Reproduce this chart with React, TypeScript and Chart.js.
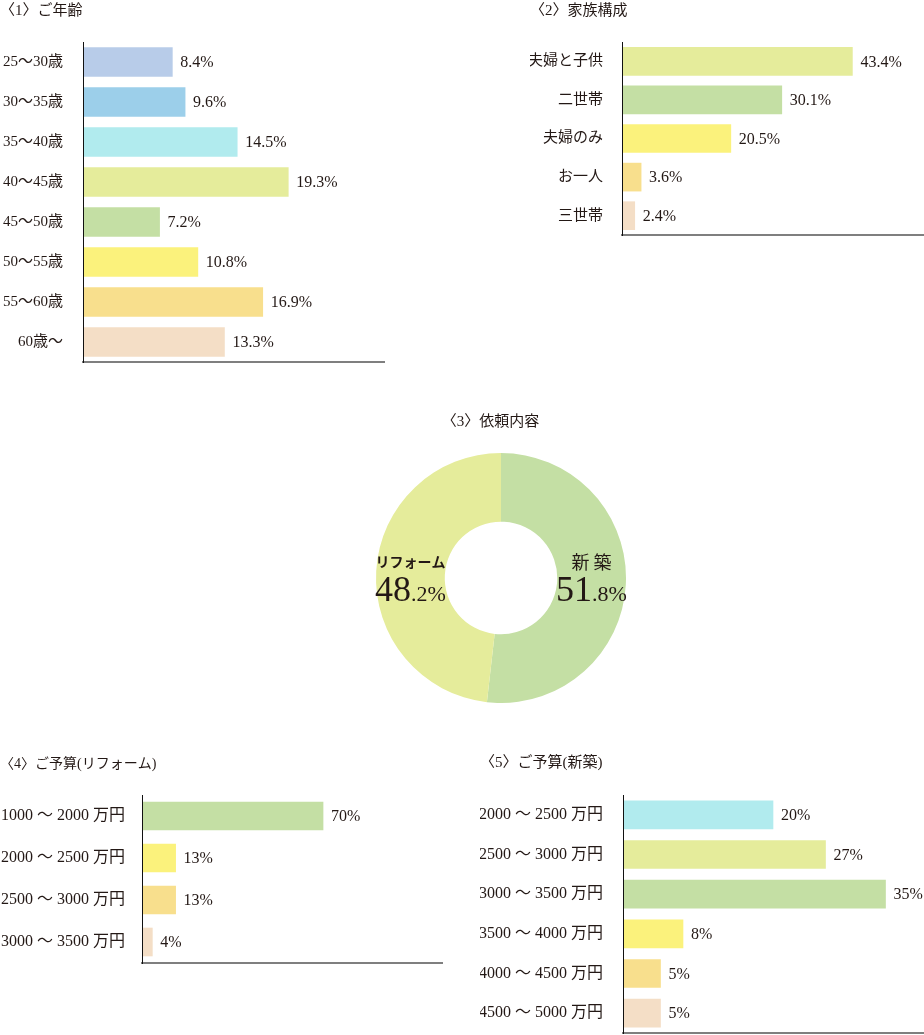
import React, { useEffect, useRef } from 'react';
import { Chart, registerables } from 'chart.js';

Chart.register(...registerables);

const FONT = '"Liberation Serif", "Noto Sans CJK JP", serif';
const JP_FONT = '"Noto Sans CJK JP", sans-serif';
const TEXT = '#231815';

// Palette
const LAVENDER = '#b8cce9';
const SKY = '#9ccfea';
const CYAN = '#b1ebee';
const LIME = '#e5ec9b';
const GREEN = '#c4dfa4';
const YELLOW = '#fbf27c';
const ORANGE = '#f8df8d';
const PEACH = '#f4dec6';

// 〈1〉ご年齢
const ageTitle = '〈1〉ご年齢';
const ageLabels = ['25〜30歳', '30〜35歳', '35〜40歳', '40〜45歳', '45〜50歳', '50〜55歳', '55〜60歳', '60歳〜'];
const ageValues = [8.4, 9.6, 14.5, 19.3, 7.2, 10.8, 16.9, 13.3];
const ageColors = [LAVENDER, SKY, CYAN, LIME, GREEN, YELLOW, ORANGE, PEACH];

// 〈2〉家族構成
const familyTitle = '〈2〉家族構成';
const familyLabels = ['夫婦と子供', '二世帯', '夫婦のみ', 'お一人', '三世帯'];
const familyValues = [43.4, 30.1, 20.5, 3.6, 2.4];
const familyColors = [LIME, GREEN, YELLOW, ORANGE, PEACH];

// 〈3〉依頼内容
const requestTitle = '〈3〉依頼内容';
const requestLabels = ['新 築', 'リフォーム'];
const requestValues = [51.8, 48.2];
const requestColors = [GREEN, LIME];

// 〈4〉ご予算(リフォーム)
const reformTitle = '〈4〉ご予算(リフォーム)';
const reformLabels = ['1000 〜 2000 万円', '2000 〜 2500 万円', '2500 〜 3000 万円', '3000 〜 3500 万円'];
const reformValues = [70, 13, 13, 4];
const reformColors = [GREEN, YELLOW, ORANGE, PEACH];

// 〈5〉ご予算(新築)
const newTitle = '〈5〉ご予算(新築)';
const newLabels = ['2000 〜 2500 万円', '2500 〜 3000 万円', '3000 〜 3500 万円', '3500 〜 4000 万円', '4000 〜 4500 万円', '4500 〜 5000 万円'];
const newValues = [20, 27, 35, 8, 5, 5];
const newColors = [CYAN, LIME, GREEN, YELLOW, ORANGE, PEACH];

const valueLabelPlugin = {
  id: 'valueLabels',
  afterDatasetsDraw(chart: any, _args: any, opts: any) {
    const { ctx } = chart;
    const meta = chart.getDatasetMeta(0);
    const data = chart.data.datasets[0].data;
    ctx.save();
    ctx.font = `${opts.size}px ${FONT}`;
    ctx.fillStyle = TEXT;
    ctx.textAlign = 'left';
    ctx.textBaseline = 'middle';
    meta.data.forEach((bar: any, i: number) => {
      const v = Number(data[i]);
      ctx.fillText(v.toFixed(opts.decimals) + '%', bar.x + opts.gap, bar.y + 1);
    });
    ctx.restore();
  },
};

const donutTitlePlugin = {
  id: 'donutTitle',
  afterDraw(chart: any, _args: any, opts: any) {
    const { ctx, chartArea } = chart;
    ctx.save();
    ctx.font = `15px ${FONT}`;
    ctx.fillStyle = TEXT;
    ctx.textAlign = 'center';
    ctx.textBaseline = 'middle';
    ctx.fillText(opts.text, (chartArea.left + chartArea.right) / 2 + opts.dx, opts.y);
    ctx.restore();
  },
};

const donutLabelPlugin = {
  id: 'donutLabels',
  afterDatasetsDraw(chart: any, _args: any, opts: any) {
    const { ctx } = chart;
    const meta = chart.getDatasetMeta(0);
    const data = chart.data.datasets[0].data;
    const names = chart.data.labels;
    ctx.save();
    ctx.fillStyle = TEXT;
    meta.data.forEach((arc: any, i: number) => {
      const c = arc.getCenterPoint();
      const cx = c.x;
      const cy = arc.y;
      ctx.font = opts.nameFonts[i];
      ctx.textAlign = 'center';
      ctx.textBaseline = 'middle';
      ctx.fillText(String(names[i]), cx, cy + opts.nameOffset);
      const [intPart, frac] = Number(data[i]).toFixed(1).split('.');
      const rest = '.' + frac + '%';
      const bigFont = `36px ${FONT}`;
      const smallFont = `22px ${FONT}`;
      ctx.font = bigFont;
      const wBig = ctx.measureText(intPart).width;
      ctx.font = smallFont;
      const wSmall = ctx.measureText(rest).width;
      const start = cx - (wBig + wSmall) / 2;
      ctx.textAlign = 'left';
      ctx.textBaseline = 'alphabetic';
      ctx.font = bigFont;
      ctx.fillText(intPart, start, cy + opts.numberOffset);
      ctx.font = smallFont;
      ctx.fillText(rest, start + wBig, cy + opts.numberOffset);
    });
    ctx.restore();
  },
};

function barConfig(p: any) {
  return {
    type: 'bar',
    data: {
      labels: p.labels,
      datasets: [
        {
          data: p.values,
          backgroundColor: p.colors,
          borderWidth: 0,
          barThickness: p.barThickness,
        },
      ],
    },
    options: {
      indexAxis: 'y',
      responsive: false,
      animation: false,
      layout: { padding: p.padding, autoPadding: false },
      plugins: {
        legend: { display: false },
        tooltip: { enabled: false },
        title: {
          display: true,
          text: p.title,
          align: 'start',
          color: TEXT,
          font: { family: FONT, size: p.titleSize || 15, weight: 'normal', lineHeight: 1.2 },
          padding: p.titlePadding,
        },
        valueLabels: { decimals: p.decimals, gap: 8, size: 16 },
      },
      scales: {
        x: {
          min: 0,
          max: p.max,
          grid: { display: false, drawTicks: false },
          border: { display: true, color: '#7f7f7f', width: 2 },
          ticks: { display: false },
          afterFit: (s: any) => {
            s.height = 0;
            s.paddingLeft = 0;
            s.paddingRight = 0;
          },
        },
        y: {
          grid: { display: false, drawTicks: false },
          border: { display: true, color: '#111111', width: 1, z: 1 },
          ticks: {
            padding: p.tickPadding,
            color: TEXT,
            font: { family: FONT, size: p.tickSize || 15 },
          },
          afterFit: (s: any) => {
            s.width = p.axisWidth;
            s.paddingTop = 0;
            s.paddingBottom = 0;
          },
        },
      },
    },
    plugins: [valueLabelPlugin],
  };
}

function donutConfig() {
  return {
    type: 'doughnut',
    data: {
      labels: requestLabels,
      datasets: [
        {
          data: requestValues,
          backgroundColor: requestColors,
          borderWidth: 0,
        },
      ],
    },
    options: {
      responsive: false,
      animation: false,
      cutout: '45%',
      layout: { padding: { top: 48, left: 0, right: 0, bottom: 0 }, autoPadding: false },
      plugins: {
        legend: { display: false },
        tooltip: { enabled: false },
        title: { display: false },
        donutTitle: { text: requestTitle, dx: -10.5, y: 16.7 },
        donutLabels: {
          nameFonts: [`18px ${JP_FONT}`, `bold 14px ${JP_FONT}`],
          nameOffset: -16,
          numberOffset: 23,
        },
      },
    },
    plugins: [donutLabelPlugin, donutTitlePlugin],
  };
}

function ChartCanvas({ make, left, top, width, height }: any) {
  const ref = useRef<HTMLCanvasElement | null>(null);
  useEffect(() => {
    if (!ref.current) return;
    const chart = new Chart(ref.current, make());
    return () => chart.destroy();
  }, []);
  return (
    <canvas
      ref={ref}
      width={width}
      height={height}
      style={{ position: 'absolute', left, top, width, height }}
    />
  );
}

export default function App() {
  return (
    <div
      style={{
        position: 'absolute',
        left: 0,
        top: 0,
        width: 924,
        height: 1035,
        overflow: 'hidden',
        background: '#ffffff',
      }}
    >
      <ChartCanvas
        left={0}
        top={0}
        width={390}
        height={368}
        make={() =>
          barConfig({
            title: ageTitle,
            labels: ageLabels,
            values: ageValues,
            colors: ageColors,
            max: 28.3,
            axisWidth: 83,
            tickPadding: 20,
            padding: { left: 0, right: 6, top: 0, bottom: 6 },
            titlePadding: { top: 2, bottom: 22 },
            decimals: 1,
            barThickness: 29,
          })
        }
      />
      <ChartCanvas
        left={530}
        top={0}
        width={394}
        height={243}
        make={() =>
          barConfig({
            title: familyTitle,
            labels: familyLabels,
            values: familyValues,
            colors: familyColors,
            max: 56.7,
            axisWidth: 92,
            tickPadding: 19,
            padding: { left: 0, right: 1, top: 0, bottom: 8 },
            titlePadding: { top: 2, bottom: 22 },
            decimals: 1,
            barThickness: 28,
          })
        }
      />
      <ChartCanvas left={351} top={405} width={300} height={298} make={donutConfig} />
      <ChartCanvas
        left={0}
        top={745}
        width={450}
        height={222}
        make={() =>
          barConfig({
            title: reformTitle,
            titleSize: 14,
            labels: reformLabels,
            values: reformValues,
            colors: reformColors,
            max: 116,
            axisWidth: 142,
            tickPadding: 17,
            tickSize: 16,
            padding: { left: 0, right: 8, top: 0, bottom: 4 },
            titlePadding: { top: 11, bottom: 22.2 },
            decimals: 0,
            barThickness: 28,
          })
        }
      />
      <ChartCanvas
        left={480}
        top={745}
        width={444}
        height={290}
        make={() =>
          barConfig({
            title: newTitle,
            labels: newLabels,
            values: newValues,
            colors: newColors,
            max: 40,
            axisWidth: 143,
            tickPadding: 20,
            tickSize: 16,
            padding: { left: 0, right: 1, top: 0, bottom: 2 },
            titlePadding: { top: 9, bottom: 23 },
            decimals: 0,
            barThickness: 28,
          })
        }
      />
    </div>
  );
}
